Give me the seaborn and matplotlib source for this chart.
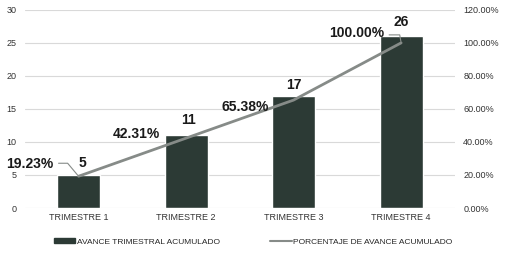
import pandas as pd
import seaborn as sns
import matplotlib.pyplot as plt
from matplotlib.lines import Line2D
from matplotlib.patches import Patch

# datos del grafico
trimestres = ['TRIMESTRE 1', 'TRIMESTRE 2', 'TRIMESTRE 3', 'TRIMESTRE 4']
avance = [5, 11, 17, 26]
porcentaje = [19.23, 42.31, 65.38, 100.00]

df = pd.DataFrame({'trimestre': trimestres, 'avance': avance, 'porcentaje': porcentaje})

sns.set_style('white')
plt.rcParams['font.family'] = ['Liberation Sans', 'DejaVu Sans']

bar_color = '#2c3a35'
line_color = '#868b88'

fig = plt.figure(figsize=(5.06, 2.56), dpi=100)
ax = fig.add_axes([0.049, 0.1875, 0.85, 0.774])
sns.barplot(data=df, x='trimestre', y='avance', color=bar_color, width=0.4,
            saturation=1, ax=ax, zorder=2)
ax.set_ylim(0, 30)
ax.set_yticks(range(0, 31, 5))
ax.set_xlim(-0.5, 3.5)
ax.grid(axis='y', color='#d9d9d9', linewidth=0.8, zorder=0)
ax.set_axisbelow(True)
ax.set_xlabel('')
ax.set_ylabel('')
for s in ax.spines.values():
    s.set_visible(False)
ax.tick_params(axis='both', length=0, labelsize=6.5, colors='#333333')
ax.tick_params(axis='y', pad=6)

ax2 = ax.twinx()
sns.lineplot(x=range(len(trimestres)), y=df['porcentaje'], color=line_color,
             linewidth=2, ax=ax2, zorder=3)
ax2.set_ylim(0, 120)
ax2.set_yticks(range(0, 121, 20))
ax2.set_yticklabels([f'{v:.2f}%' for v in range(0, 121, 20)])
ax2.set_ylabel('')
for s in ax2.spines.values():
    s.set_visible(False)
ax2.tick_params(axis='y', length=0, labelsize=6.5, colors='#333333', pad=6)

# etiquetas de valores
val_off = [(4, 12), (2, 15), (0, 11), (0, 14)]
for i, v in enumerate(avance):
    ax.annotate(str(v), (i, v), xytext=val_off[i], textcoords='offset pixels',
                ha='center', va='center', fontsize=10, fontweight='bold',
                color='#1a1a1a')

pct_off = [(-49, 12), (-50, 4), (-48, -7), (-44, 10)]
for i, p in enumerate(porcentaje):
    ax2.annotate(f'{p:.2f}%', (i, p), xytext=pct_off[i], textcoords='offset pixels',
                 ha='center', va='center', fontsize=10, fontweight='bold',
                 color='#1a1a1a')

# lineas guia
ax2.annotate('', (0, porcentaje[0]), xytext=(-20, 13), textcoords='offset pixels',
             arrowprops=dict(arrowstyle='-', color=line_color, lw=0.8,
                             shrinkA=0, shrinkB=1,
                             connectionstyle='angle,angleA=0,angleB=130,rad=0'))
ax2.annotate('', (3, porcentaje[3]), xytext=(-12, 8), textcoords='offset pixels',
             arrowprops=dict(arrowstyle='-', color=line_color, lw=0.8,
                             shrinkA=0, shrinkB=1,
                             connectionstyle='angle,angleA=0,angleB=100,rad=0'))

handles = [Patch(color=bar_color), Line2D([0], [0], color=line_color, lw=1.5)]
labels = ['AVANCE TRIMESTRAL ACUMULADO', 'PORCENTAJE DE AVANCE ACUMULADO']
fig.legend(handles, labels, loc='center', bbox_to_anchor=(0.5, 0.055), ncol=2,
           frameon=False, fontsize=6, handlelength=2.6, handleheight=0.6,
           handletextpad=0.2, columnspacing=6)

fig.savefig('out.png', dpi=100)
